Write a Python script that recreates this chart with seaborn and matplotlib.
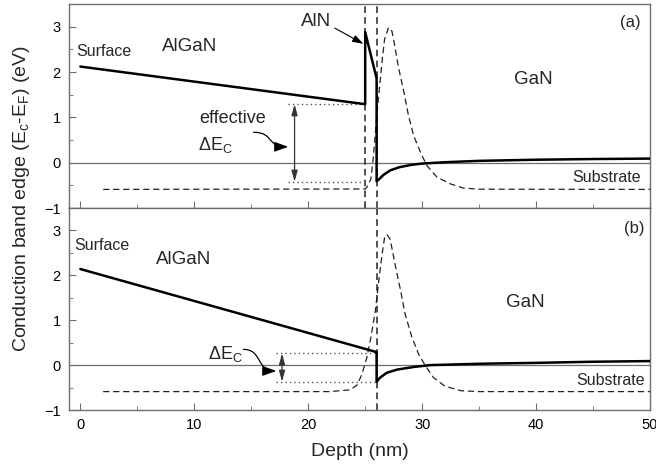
import numpy as np
import pandas as pd
import matplotlib
matplotlib.use("Agg")
import matplotlib.pyplot as plt
from matplotlib.path import Path
from matplotlib.patches import FancyArrowPatch
from matplotlib.ticker import MultipleLocator
import seaborn as sns

# ---- (a) structure with AlN interlayer ----
band_a_depth = [0, 25, 25, 26, 26, 26.2, 26.6, 27.2, 28, 29, 30, 32, 35, 40, 45, 50]
band_a_energy = [2.12, 1.29, 2.88, 1.86, -0.41, -0.37, -0.27, -0.17, -0.10, -0.05,
                 -0.02, 0.01, 0.04, 0.065, 0.08, 0.09]
wave_a_depth = [2, 25.0, 25.15, 25.5, 25.7, 25.9, 26.1, 26.3, 26.5, 26.7, 27.05, 27.35,
                27.6, 27.9, 28.4, 28.8, 29.25, 29.85, 30.4, 31.3, 32.5, 33.6, 35, 50]
wave_a_value = [-0.59, -0.58, -0.54, -0.36, 0.08, 0.67, 1.26, 1.77, 2.28, 2.72, 2.98, 2.90,
                2.57, 2.13, 1.55, 1.04, 0.60, 0.23, -0.06, -0.32, -0.47, -0.56, -0.585, -0.59]

# ---- (b) structure without interlayer ----
band_b_depth = [0, 26, 26, 26.3, 26.9, 27.8, 29.3, 30.7, 35, 40, 45, 50]
band_b_energy = [2.14, 0.29, -0.37, -0.28, -0.17, -0.10, -0.04, 0.0, 0.03, 0.05, 0.075, 0.09]
wave_b_depth = [2, 21.9, 23.7, 24.3, 24.7, 25.15, 25.5, 25.9, 26.2, 26.5, 26.7, 26.9, 27.2,
                27.6, 28.1, 28.5, 29.1, 29.7, 30.3, 31.0, 32.0, 33.4, 35, 50]
wave_b_value = [-0.59, -0.59, -0.55, -0.44, -0.21, 0.17, 0.62, 1.22, 1.90, 2.50, 2.84, 2.91,
                2.80, 2.27, 1.67, 1.14, 0.62, 0.24, -0.02, -0.28, -0.47, -0.57, -0.59, -0.59]

# band offsets marked with double arrows: (x, top, bottom, dotted-line start, dotted end)
offset_a = (18.8, 1.29, -0.42, 18.2, 25.2)
offset_b = (17.7, 0.26, -0.37, 17.2, 26.0)

x_ticks = [0, 10, 20, 30, 40, 50]
y_ticks = [-1, 0, 1, 2, 3]

sns.set_style("ticks")
plt.rcParams.update({
    "font.family": ["Liberation Sans", "DejaVu Sans"],
    "mathtext.fontset": "custom",
    "mathtext.rm": "Liberation Sans",
    "mathtext.it": "Liberation Sans:italic",
    "axes.edgecolor": "#6e6e6e",
    "axes.linewidth": 1.0,
    "xtick.color": "#6e6e6e",
    "ytick.color": "#6e6e6e",
    "xtick.labelcolor": "black",
    "ytick.labelcolor": "black",
})

fig = plt.figure(figsize=(6.56, 4.66), dpi=100)
W, H = 656, 466
left, right = 69 / W, 650 / W
ax_a = fig.add_axes([left, 1 - 208 / H, right - left, 204 / H])
ax_b = fig.add_axes([left, 1 - 410 / H, right - left, 202 / H])

gray = "#555555"
dash_style = (0, (5, 3))

def style_axes(ax, show_xlabels):
    ax.set_xlim(-1, 50)
    ax.set_ylim(-1, 3.5)
    ax.set_xticks(x_ticks)
    ax.set_yticks(y_ticks)
    ax.xaxis.set_minor_locator(MultipleLocator(5))
    ax.yaxis.set_minor_locator(MultipleLocator(0.5))
    ax.tick_params(which="both", direction="in", top=False, right=False, labelsize=10.5)
    ax.tick_params(which="major", length=5)
    ax.tick_params(which="minor", length=3)
    ax.tick_params(axis="y", pad=6)
    ax.tick_params(axis="x", pad=6, labelbottom=show_xlabels)
    ax.set_xlabel("")
    ax.set_ylabel("")
    for s in ax.spines.values():
        s.set_visible(True)
    ax.axhline(0, color="#6e6e6e", lw=0.9, zorder=1)


def curly_arrow(ax, start, end, c1, c2):
    path = Path([start, c1, c2, end], [Path.MOVETO, Path.CURVE4, Path.CURVE4, Path.CURVE4])
    ax.add_patch(FancyArrowPatch(path=path, arrowstyle="-|>,head_length=0.7,head_width=0.25",
                                 mutation_scale=12, color="black", lw=0.9))


def offset_marker(ax, spec):
    x, top, bot, x0, x1 = spec
    ax.plot([x0, x1], [top, top], color=gray, lw=1.0, ls=(0, (1, 2.2)))
    ax.plot([x0, x1], [bot, bot], color=gray, lw=1.0, ls=(0, (1, 2.2)))
    ax.annotate("", xy=(x, bot), xytext=(x, top),
                arrowprops=dict(arrowstyle="<|-|>,head_length=0.55,head_width=0.15",
                                mutation_scale=12, color="#333333", lw=0.9,
                                shrinkA=0, shrinkB=0))


# ---------------- panel (a) ----------------
df_band_a = pd.DataFrame({"depth": band_a_depth, "energy": band_a_energy})
df_wave_a = pd.DataFrame({"depth": wave_a_depth, "value": wave_a_value})
sns.lineplot(data=df_wave_a, x="depth", y="value", ax=ax_a, sort=False, estimator=None,
             color="#222222", lw=0.9, linestyle=dash_style, zorder=3)
sns.lineplot(data=df_band_a, x="depth", y="energy", ax=ax_a, sort=False, estimator=None,
             color="black", lw=1.8, zorder=4)
ax_a.axvline(25, color="#333333", lw=1.2, ls=(0, (4, 2.5)), zorder=2)
ax_a.axvline(26, color="#333333", lw=1.2, ls=(0, (4, 2.5)), zorder=2)
style_axes(ax_a, False)
offset_marker(ax_a, offset_a)

ax_a.text(-0.35, 2.46, "Surface", fontsize=11.5, ha="left", va="center")
ax_a.text(7.2, 2.57, "AlGaN", fontsize=13.5, ha="left", va="center")
ax_a.text(38.1, 1.84, "GaN", fontsize=13.5, ha="left", va="center")
ax_a.text(49.2, 3.09, "(a)", fontsize=12, ha="right", va="center")
ax_a.text(49.2, -0.33, "Substrate", fontsize=11.5, ha="right", va="center")
ax_a.text(10.4, 0.98, "effective", fontsize=13, ha="left", va="center")
ax_a.text(10.35, 0.27, r"$\mathregular{\Delta E_C}$", fontsize=13, ha="left", va="baseline")
ax_a.annotate("AlN", xy=(24.85, 2.62), xytext=(19.4, 3.12), fontsize=13.5,
              ha="left", va="center",
              arrowprops=dict(arrowstyle="-|>,head_length=0.55,head_width=0.18",
                              mutation_scale=12, color="black", lw=0.8,
                              shrinkA=0, shrinkB=0, relpos=(1.0, 0.2)))
curly_arrow(ax_a, (15.2, 0.67), (18.25, 0.35), (17.0, 0.67), (16.3, 0.35))

# ---------------- panel (b) ----------------
df_band_b = pd.DataFrame({"depth": band_b_depth, "energy": band_b_energy})
df_wave_b = pd.DataFrame({"depth": wave_b_depth, "value": wave_b_value})
sns.lineplot(data=df_wave_b, x="depth", y="value", ax=ax_b, sort=False, estimator=None,
             color="#222222", lw=0.9, linestyle=dash_style, zorder=3)
sns.lineplot(data=df_band_b, x="depth", y="energy", ax=ax_b, sort=False, estimator=None,
             color="black", lw=1.8, zorder=4)
ax_b.axvline(26, color="#333333", lw=1.2, ls=(0, (4, 2.5)), zorder=2)
style_axes(ax_b, True)
offset_marker(ax_b, offset_b)

ax_b.text(-0.55, 2.67, "Surface", fontsize=11.5, ha="left", va="center")
ax_b.text(6.6, 2.35, "AlGaN", fontsize=13.5, ha="left", va="center")
ax_b.text(37.4, 1.39, "GaN", fontsize=13.5, ha="left", va="center")
ax_b.text(49.55, 3.04, "(b)", fontsize=12, ha="right", va="center")
ax_b.text(49.55, -0.34, "Substrate", fontsize=11.5, ha="right", va="center")
ax_b.text(11.2, 0.13, r"$\mathregular{\Delta E_C}$", fontsize=13, ha="left", va="baseline")
curly_arrow(ax_b, (14.3, 0.35), (17.2, -0.13), (16.0, 0.35), (15.4, -0.13))

fig.text(21.5 / W, 1 - 199 / H, r"Conduction band edge (E$_\mathregular{c}$-E$_\mathregular{F}$) (eV)",
         rotation=90, fontsize=14, ha="center", va="center")
fig.text(359.5 / W, 1 - 451.7 / H, "Depth (nm)", fontsize=14, ha="center", va="center")

fig.savefig("out.png", dpi=100)
